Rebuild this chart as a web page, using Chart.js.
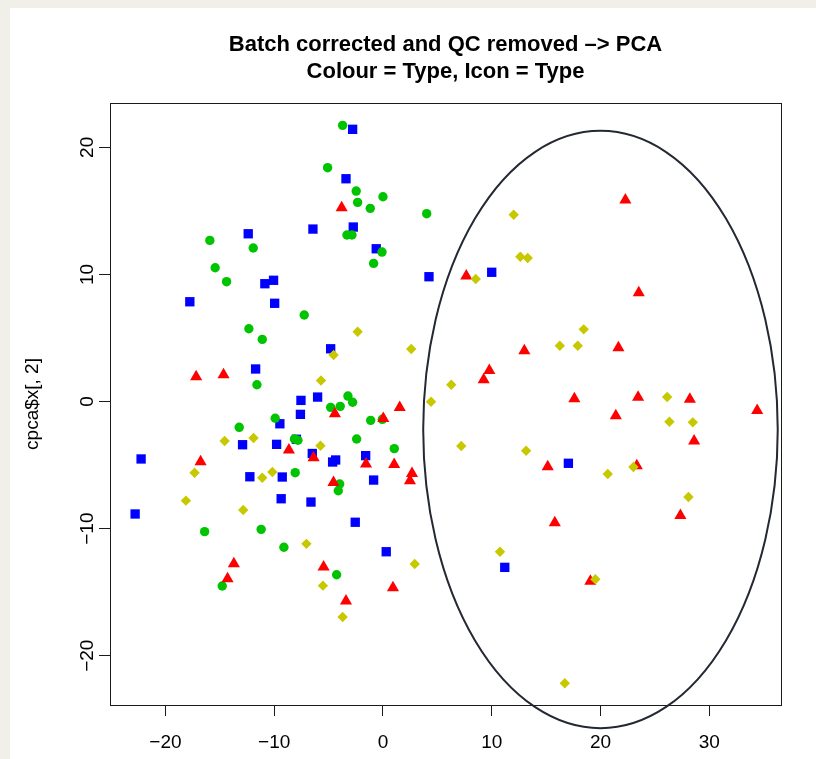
<!DOCTYPE html>
<html>
<head>
<meta charset="utf-8">
<script src="https://cdn.jsdelivr.net/npm/chart.js@4.4.1/dist/chart.umd.min.js"></script>
<style>
  html, body { margin: 0; padding: 0; background: #f0f0e8; }
  #panel { position: absolute; left: 10px; top: 8px; width: 806px; height: 751px; background: #fff; }
  canvas { display: block; }
</style>
</head>
<body>
<div id="panel"><canvas id="pca" width="806" height="751"></canvas></div>
<script>
/* PCA scores: PC1 (x) and PC2 (y) for each type */
const greenX = [-5.09, -3.71, -2.46, 0.00, -2.33, -1.17, 4.02, -3.31, -2.85, -0.09, -0.86, -15.92, -11.93, -15.43, -14.38,
  -7.24, -12.33, -11.10, -11.59, -3.22, -2.79, -4.81, -3.93, -1.13, -0.06, -2.42, 1.04, -9.91, -13.22, -8.14,
  -7.82, -8.07, -3.98, -4.11, -16.40, -11.20, -9.11, -14.78, -4.26];
const greenY = [18.40, 21.73, 16.56, 16.11, 15.67, 15.20, 14.78, 13.10, 13.10, 11.76, 10.87, 12.68, 12.08, 10.53, 9.43,
  6.81, 5.73, 4.89, 1.32, 0.43, -0.06, -0.46, -0.38, -1.48, -1.40, -2.95, -3.71, -1.32, -2.03, -2.95,
  -3.05, -5.60, -6.49, -7.02, -10.24, -10.06, -11.47, -14.52, -13.63];

const blueX = [-2.79, -3.40, -6.44, -12.39, -2.73, -0.62, 4.23, 10.00, -10.86, -10.06, -17.76, -9.96, -4.81, -11.71, -6.01,
  -7.54, -7.59, -9.48, -7.96, -12.91, -9.78, -6.50, -4.63, -4.35, -1.59, -0.86, -22.24, -12.24, -9.26, -9.36,
  -6.62, -2.55, 0.30, 11.20, 17.05, -22.79];
const blueY = [21.42, 17.53, 13.57, 13.20, 13.73, 12.02, 9.82, 10.17, 9.27, 9.54, 7.85, 7.73, 4.15, 2.56, 0.35,
  0.09, -1.01, -1.75, -2.97, -3.40, -3.37, -4.09, -4.76, -4.60, -4.26, -6.18, -4.52, -5.92, -5.94, -7.65,
  -7.91, -9.50, -11.82, -13.05, -4.86, -8.85];

const redX = [-3.80, 7.66, 22.29, 23.52, 13.00, 21.65, 9.78, 9.26, 17.60, 23.46, 28.22, 34.41, 21.41, 28.61, 15.15,
  23.34, 27.35, 15.80, 19.07, -17.18, -14.66, -4.42, 1.54, 0.03, -8.65, -6.38, -1.56, 1.03, 2.67, 2.48,
  -4.55, -16.77, -13.71, -14.29, -5.46, 0.92, -3.40];
const redY = [15.25, 9.88, 15.86, 8.56, 4.00, 4.24, 2.45, 1.72, 0.22, 0.33, 0.17, -0.70, -1.11, -3.10, -5.13,
  -5.05, -8.96, -9.53, -14.15, 1.95, 2.11, -0.96, -0.48, -1.33, -3.81, -4.42, -4.91, -4.95, -5.66, -6.23,
  -6.38, -4.73, -12.76, -13.94, -13.03, -14.65, -15.69];

const yellowX = [8.53, 12.02, 12.63, 13.31, 18.46, 16.26, 17.91, 26.13, 26.34, 28.49, 13.16, 20.67, 23.03, 28.09, 19.53,
  16.72, -2.33, -4.54, 2.60, 6.28, -5.70, 4.42, -5.75, 7.20, -14.56, -11.90, -17.32, -11.10, -10.17, -18.12,
  -12.85, -7.04, 2.92, -5.52, -3.71, 10.76];
const yellowY = [9.64, 14.70, 11.39, 11.29, 5.68, 4.39, 4.39, 0.35, -1.59, -1.64, -3.87, -5.70, -5.15, -7.51, -13.99,
  -22.17, 5.49, 3.66, 4.13, 1.32, 1.65, -0.02, -3.48, -3.50, -3.11, -2.87, -5.60, -6.00, -5.55, -7.80,
  -8.54, -11.20, -12.79, -14.49, -16.96, -11.82];

const xTicks = [-20, -10, 0, 10, 20, 30];
const yTicks = [-20, -10, 0, 10, 20];
const xLimits = [-25.1, 36.6];
const yLimits = [-23.88, 23.49];

// ellipse drawn round the right-hand cluster (centre, semi-axes in data units)
const ellipseCentre = [20, -2.2];
const ellipseRadii = [16.3, 23.5];

const titleLines = ['Batch corrected and QC removed \u2013> PCA', 'Colour = Type, Icon = Type'];
const yTitle = 'cpca$x[, 2]';

const pts = (xs, ys) => xs.map((x, i) => ({ x: x, y: ys[i] }));
const minus = v => String(v).replace('-', '\u2212');

const decorations = {
  id: 'decorations',
  afterDatasetsDraw(chart) {
    const ctx = chart.ctx;
    const a = chart.chartArea;
    const xs = chart.scales.x, ys = chart.scales.y;
    ctx.save();

    // plot box
    ctx.strokeStyle = '#1a1a1a';
    ctx.lineWidth = 1;
    ctx.strokeRect(Math.round(a.left) + 0.5, Math.round(a.top) + 0.5,
      Math.round(a.right - a.left), Math.round(a.bottom - a.top));

    // ellipse (not clipped, as in the original)
    const cx = xs.getPixelForValue(ellipseCentre[0]);
    const cy = ys.getPixelForValue(ellipseCentre[1]);
    const rx = xs.getPixelForValue(ellipseCentre[0] + ellipseRadii[0]) - cx;
    const ry = cy - ys.getPixelForValue(ellipseCentre[1] + ellipseRadii[1]);
    ctx.beginPath();
    ctx.ellipse(cx, cy, rx, ry, 0, 0, Math.PI * 2);
    ctx.strokeStyle = '#232833';
    ctx.lineWidth = 2;
    ctx.stroke();

    // title
    const mid = (a.left + a.right) / 2;
    ctx.fillStyle = '#000';
    ctx.textAlign = 'center';
    ctx.textBaseline = 'middle';
    ctx.font = 'bold 22px "Liberation Sans", Arial, sans-serif';
    ctx.fillText(titleLines[0], mid, 37);
    ctx.fillText(titleLines[1], mid, 64);

    // y tick labels, parallel to the axis
    ctx.font = '19px "Liberation Sans", Arial, sans-serif';
    yTicks.forEach(v => {
      ctx.save();
      ctx.translate(78, ys.getPixelForValue(v));
      ctx.rotate(-Math.PI / 2);
      ctx.fillText(minus(v), 0, 0);
      ctx.restore();
    });

    // y axis title
    ctx.translate(23, (a.top + a.bottom) / 2);
    ctx.rotate(-Math.PI / 2);
    ctx.fillText(yTitle, 0, 0);
    ctx.restore();
  }
};

const pointSet = (label, data, style, radius, colour) => ({
  label: label,
  data: data,
  pointStyle: style,
  pointRadius: radius,
  pointHoverRadius: radius,
  backgroundColor: colour,
  borderColor: colour,
  borderWidth: 0
});

new Chart(document.getElementById('pca'), {
  type: 'scatter',
  data: {
    datasets: [
      pointSet('yellow', pts(yellowX, yellowY), 'rectRot', 5.2, '#c8c800'),
      pointSet('red', pts(redX, redY), 'triangle', 7, '#ff0000'),
      pointSet('green', pts(greenX, greenY), 'circle', 4.7, '#00c400'),
      pointSet('blue', pts(blueX, blueY), 'rect', 6.6, '#0000ff')
    ]
  },
  options: {
    responsive: false,
    animation: false,
    events: [],
    layout: { padding: { left: 0, top: 95, right: 35, bottom: 0 } },
    plugins: { legend: { display: false }, tooltip: { enabled: false }, title: { display: false } },
    scales: {
      x: {
        type: 'linear',
        min: xLimits[0],
        max: xLimits[1],
        afterBuildTicks: s => { s.ticks = xTicks.map(v => ({ value: v })); },
        afterFit: s => { s.height = 54; },
        grid: { drawOnChartArea: false, drawTicks: true, tickLength: 11, tickColor: '#1a1a1a', tickWidth: 1 },
        border: { display: true, color: '#1a1a1a' },
        ticks: {
          color: '#000',
          padding: 15,
          maxRotation: 0,
          font: { size: 19, family: '"Liberation Sans", Arial, sans-serif' },
          callback: v => minus(v)
        }
      },
      y: {
        type: 'linear',
        min: yLimits[0],
        max: yLimits[1],
        afterBuildTicks: s => { s.ticks = yTicks.map(v => ({ value: v })); },
        afterFit: s => { s.width = 100; },
        grid: { drawOnChartArea: false, drawTicks: true, tickLength: 11, tickColor: '#1a1a1a', tickWidth: 1 },
        border: { display: true, color: '#1a1a1a' },
        ticks: { display: false }
      }
    }
  },
  plugins: [decorations]
});
</script>
</body>
</html>
